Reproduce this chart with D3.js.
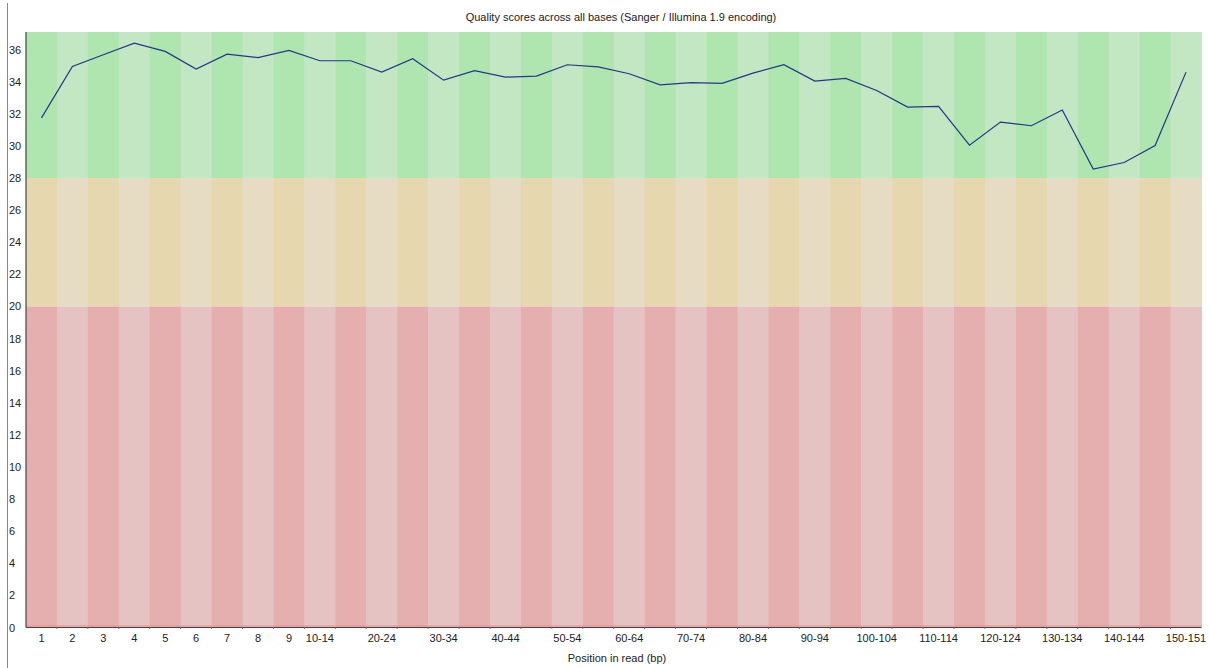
<!DOCTYPE html>
<html>
<head>
<meta charset="utf-8">
<script src="https://cdn.jsdelivr.net/npm/d3@7"></script>
<style>
  html, body { margin: 0; padding: 0; background: #fff; }
  svg { display: block; font-family: "Liberation Sans", Arial, sans-serif; }
</style>
</head>
<body>
<svg id="chart" width="1209" height="668"></svg>
<script>
// Position groups along the read
const positions = ["1","2","3","4","5","6","7","8","9",
  "10-14","15-19","20-24","25-29","30-34","35-39","40-44","45-49",
  "50-54","55-59","60-64","65-69","70-74","75-79","80-84","85-89",
  "90-94","95-99","100-104","105-109","110-114","115-119","120-124",
  "125-129","130-134","135-139","140-144","145-149","150-151"];

// Mean Phred quality per position group
const meanQuality = [31.75, 34.95, 35.68, 36.41, 35.89, 34.79, 35.72, 35.51, 35.95,
  35.31, 35.31, 34.6, 35.43, 34.1, 34.69, 34.29, 34.35, 35.06, 34.93, 34.5,
  33.81, 33.94, 33.9, 34.54, 35.06, 34.04, 34.21, 33.46, 32.42, 32.46,
  30.05, 31.49, 31.26, 32.24, 28.56, 28.97, 30.03, 34.6];

// Y axis tick values
const yTicks = [0,2,4,6,8,10,12,14,16,18,20,22,24,26,28,30,32,34,36];

// Quality zones: [low, high, darker fill, lighter fill]
const zones = [
  {lo: 28, hi: 37.1, dark: "rgb(175,230,175)", light: "rgb(195,230,195)"},
  {lo: 20, hi: 28,   dark: "rgb(230,215,175)", light: "rgb(230,220,195)"},
  {lo: 0,  hi: 20,   dark: "rgb(230,175,175)", light: "rgb(230,195,195)"}
];

const svg = d3.select("#chart");
const plotLeft = 26, plotRight = 1201.5, plotTop = 32, plotBottom = 627.5;

const x = d3.scaleBand().domain(positions).range([plotLeft, plotRight]).padding(0);
const y = d3.scaleLinear().domain([0, 37.1]).range([plotBottom, plotTop]);

// frame line at the far left
svg.append("line").attr("x1", 7.5).attr("x2", 7.5).attr("y1", 3).attr("y2", 668)
  .attr("stroke", "#888").attr("stroke-width", 1);

// title
svg.append("text").attr("x", 621).attr("y", 21).attr("text-anchor", "middle")
  .attr("font-size", 11).attr("fill", "#222")
  .text("Quality scores across all bases (Sanger / Illumina 1.9 encoding)");

// background bands
const bands = svg.append("g");
zones.forEach(z => {
  bands.selectAll(null).data(positions).enter().append("rect")
    .attr("x", d => x(d))
    .attr("width", x.bandwidth() + 0.5)
    .attr("y", y(z.hi))
    .attr("height", y(z.lo) - y(z.hi))
    .attr("fill", (d, i) => i % 2 === 0 ? z.dark : z.light);
});

// thin red line along the bottom of the plot
svg.append("line").attr("x1", plotLeft).attr("x2", plotRight)
  .attr("y1", plotBottom - 1.5).attr("y2", plotBottom - 1.5)
  .attr("stroke", "rgb(240,140,140)").attr("stroke-width", 1);

// mean line
const line = d3.line()
  .x((d, i) => x(positions[i]) + x.bandwidth() / 2)
  .y(d => y(d));
svg.append("path").datum(meanQuality)
  .attr("d", line)
  .attr("fill", "none")
  .attr("stroke", "#22378a")
  .attr("stroke-width", 1.2);

// axes
svg.append("line").attr("x1", plotLeft).attr("x2", plotLeft).attr("y1", plotTop).attr("y2", plotBottom)
  .attr("stroke", "#444").attr("stroke-width", 1.2);
svg.append("line").attr("x1", plotLeft).attr("x2", plotRight).attr("y1", plotBottom).attr("y2", plotBottom)
  .attr("stroke", "#444").attr("stroke-width", 1.2);

// y tick labels
svg.append("g").selectAll("text").data(yTicks).enter().append("text")
  .attr("x", 9).attr("y", d => y(d) + 4)
  .attr("font-size", 11).attr("fill", "#222")
  .text(d => d);

// x tick marks at band edges
svg.append("g").selectAll("line").data(positions.slice(1)).enter().append("line")
  .attr("x1", d => x(d)).attr("x2", d => x(d))
  .attr("y1", plotBottom).attr("y2", plotBottom + 1.5)
  .attr("stroke", "#777").attr("stroke-width", 1);

// x tick labels (every group up to 10-14, then every other)
svg.append("g").selectAll("text")
  .data(positions.map((p, i) => ({p, i})).filter(d => d.i < 9 || d.i % 2 === 1))
  .enter().append("text")
  .attr("x", d => x(d.p) + x.bandwidth() / 2)
  .attr("y", 642)
  .attr("text-anchor", "middle")
  .attr("font-size", 11).attr("fill", "#222")
  .text(d => d.p);

// x axis title
svg.append("text").attr("x", 617).attr("y", 662).attr("text-anchor", "middle")
  .attr("font-size", 11).attr("fill", "#222")
  .text("Position in read (bp)");
</script>
</body>
</html>
